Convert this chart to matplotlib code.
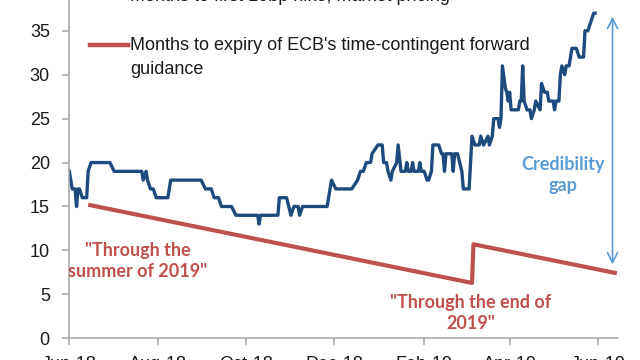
import matplotlib
matplotlib.use("Agg")
import matplotlib.pyplot as plt
import pandas as pd
from matplotlib.lines import Line2D

# market pricing: months to first 10bp hike
blue_dates = [
    "2018-06-01", "2018-06-03", "2018-06-05", "2018-06-06", "2018-06-07", "2018-06-08",
    "2018-06-10", "2018-06-13", "2018-06-14", "2018-06-16", "2018-06-29", "2018-07-02",
    "2018-07-21", "2018-07-22", "2018-07-24", "2018-07-25", "2018-07-27", "2018-07-29",
    "2018-07-31", "2018-08-08", "2018-08-10", "2018-08-31", "2018-09-03", "2018-09-07",
    "2018-09-09", "2018-09-12", "2018-09-14", "2018-09-21", "2018-09-24", "2018-10-09",
    "2018-10-10", "2018-10-11", "2018-10-23", "2018-10-24", "2018-10-29", "2018-11-01",
    "2018-11-03", "2018-11-06", "2018-11-07", "2018-11-09", "2018-11-26", "2018-11-29",
    "2018-12-02", "2018-12-13", "2018-12-17", "2018-12-19", "2018-12-21", "2018-12-23",
    "2018-12-26", "2018-12-27", "2018-12-31", "2019-01-03", "2019-01-04", "2019-01-06",
    "2019-01-07", "2019-01-09", "2019-01-10", "2019-01-13", "2019-01-14", "2019-01-16",
    "2019-01-19", "2019-01-20", "2019-01-21", "2019-01-23", "2019-01-24", "2019-01-25",
    "2019-01-28", "2019-01-29", "2019-01-30", "2019-02-01", "2019-02-03", "2019-02-04",
    "2019-02-06", "2019-02-07", "2019-02-11", "2019-02-13", "2019-02-14", "2019-02-15",
    "2019-02-16", "2019-02-20", "2019-02-21", "2019-02-22", "2019-02-24", "2019-02-27",
    "2019-02-28", "2019-03-04", "2019-03-06", "2019-03-08", "2019-03-11", "2019-03-12",
    "2019-03-14", "2019-03-17", "2019-03-18", "2019-03-20", "2019-03-21", "2019-03-24",
    "2019-03-25", "2019-03-26", "2019-03-27", "2019-03-29", "2019-03-30", "2019-03-31",
    "2019-04-01", "2019-04-02", "2019-04-07", "2019-04-08", "2019-04-09", "2019-04-10",
    "2019-04-11", "2019-04-13", "2019-04-15", "2019-04-16", "2019-04-18", "2019-04-19",
    "2019-04-22", "2019-04-23", "2019-04-25", "2019-04-27", "2019-04-28", "2019-05-01",
    "2019-05-02", "2019-05-03", "2019-05-05", "2019-05-06", "2019-05-07", "2019-05-09",
    "2019-05-10", "2019-05-12", "2019-05-14", "2019-05-17", "2019-05-19", "2019-05-22",
    "2019-05-23", "2019-05-25", "2019-05-27", "2019-05-29", "2019-05-30",
]
blue_vals = [
    19, 17, 17, 15, 17, 17,
    16, 16, 19, 20, 20, 19,
    19, 18, 19, 18, 17, 17,
    16, 16, 18, 18, 17, 17,
    16, 16, 15, 15, 14, 14,
    13, 14, 14, 16, 16, 14,
    15, 15, 14, 15, 15, 18,
    17, 17, 18, 19, 19, 20,
    20, 21, 22, 22, 20, 20,
    19, 18, 19, 20, 22, 19,
    19, 20, 19, 19, 20, 19,
    19, 20, 19, 19, 18, 18,
    19, 22, 22, 21, 21, 19,
    21, 21, 19, 21, 21, 19,
    17, 17, 23, 22, 22, 23,
    22, 23, 22, 23, 25, 25,
    24, 25, 31, 28.5, 28, 27,
    28, 26, 26, 27, 27, 31,
    27, 26, 26, 25, 26, 27,
    26, 29, 28, 28, 27, 27,
    26, 27, 27, 30, 31, 30,
    31, 31, 33, 33, 32, 32,
    35, 35, 36, 37, 37,
]

# ECB time-contingent forward guidance: months to expiry
red_dates = ["2018-06-14", "2019-03-06", "2019-03-07", "2019-06-14"]
red_vals = [15.2, 6.3, 10.7, 7.4]

tick_dates = ["2018-06-01", "2018-08-01", "2018-10-01", "2018-12-01",
              "2019-02-01", "2019-04-01", "2019-06-01"]
tick_labels = ["Jun-18", "Aug-18", "Oct-18", "Dec-18", "Feb-19", "Apr-19", "Jun-19"]

BLUE = "#1F4A7E"
RED = "#C0504D"
LIGHT = "#5B9BD5"
GREY = "#A6A6A6"

plt.rcParams["font.family"] = ["Liberation Sans", "DejaVu Sans"]

fig = plt.figure(figsize=(6.4, 3.6), dpi=100)
ax = fig.add_axes([0.1083, 0.0603, 0.8578, 0.9397])

ax.plot(pd.to_datetime(blue_dates), blue_vals, color=BLUE, lw=2.4, solid_joinstyle="round")
ax.plot(pd.to_datetime(red_dates), red_vals, color=RED, lw=3.0, solid_capstyle="butt")

ax.set_xlim(pd.Timestamp("2018-06-01"), pd.Timestamp("2019-06-15"))
ax.set_ylim(0, 38.5)
ax.set_yticks([0, 5, 10, 15, 20, 25, 30, 35])
ax.set_xticks(pd.to_datetime(tick_dates))
ax.set_xticklabels(tick_labels)

for s in ["top", "right"]:
    ax.spines[s].set_visible(False)
for s in ["left", "bottom"]:
    ax.spines[s].set_color(GREY)
    ax.spines[s].set_linewidth(1.1)
ax.tick_params(axis="both", colors=GREY, labelcolor="#1a1a1a", labelsize=13,
               length=5, width=1.1, direction="out")
ax.tick_params(axis="y", pad=9)
ax.tick_params(axis="x", pad=8)

# legend drawn by hand (the top entry is cut off by the frame)
fig.add_artist(Line2D([0.1406, 0.2], [1.011, 1.011], transform=fig.transFigure,
                      color=BLUE, lw=3.0))
fig.text(0.203, 1.011, "Months to first 10bp hike, market pricing",
         fontsize=13, va="center", ha="left", color="#1a1a1a")
fig.add_artist(Line2D([0.1406, 0.2], [0.875, 0.875], transform=fig.transFigure,
                      color=RED, lw=3.2))
fig.text(0.203, 0.875, "Months to expiry of ECB's time-contingent forward",
         fontsize=13, va="center", ha="left", color="#1a1a1a")
fig.text(0.203, 0.806, "guidance",
         fontsize=13, va="center", ha="left", color="#1a1a1a")

# annotations
ann_font = ["Lato", "DejaVu Sans"]
ax.text(pd.Timestamp("2018-07-18"), 8.8, "\"Through the\nsummer of 2019\"",
        color=RED, fontsize=13, fontweight="bold", ha="center", va="center",
        family=ann_font, linespacing=1.25)
ax.text(pd.Timestamp("2019-03-05"), 2.9, "\"Through the end of\n2019\"",
        color=RED, fontsize=13, fontweight="bold", ha="center", va="center",
        family=ann_font, linespacing=1.25)
ax.text(pd.Timestamp("2019-05-08"), 18.6, "Credibility\ngap",
        color=LIGHT, fontsize=13, fontweight="bold", ha="center", va="center",
        family=ann_font, linespacing=1.25)
ax.annotate("", xy=(pd.Timestamp("2019-06-11"), 36.6),
            xytext=(pd.Timestamp("2019-06-11"), 8.4),
            arrowprops=dict(arrowstyle="<->", color=LIGHT, lw=1.2,
                            mutation_scale=18, shrinkA=0, shrinkB=0))

fig.savefig("out.png", dpi=100)
